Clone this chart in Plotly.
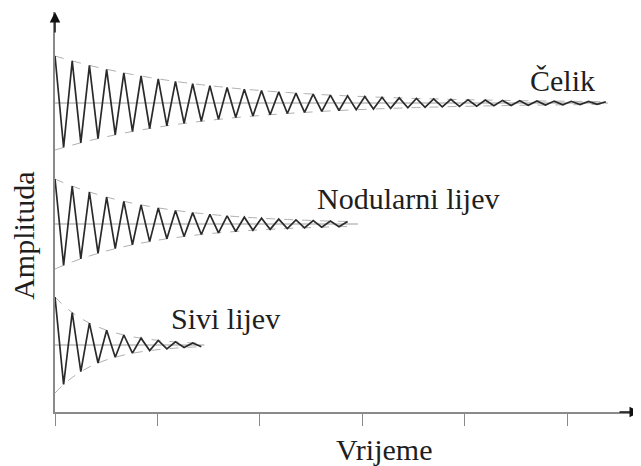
"""
Prigušene oscilacije - čelik, nodularni lijev, sivi lijev
"""
import plotly.graph_objects as go

# vrijeme: pola perioda titraja (jedinica = razmak između oznaka na osi)
pola_perioda = 0.084

# amplitude uzastopnih vrhova (očitano sa slike)
celik_amp = [47, 44.5, 42.1, 39.8, 37.6, 35.6, 33.7, 31.9, 30.1, 28.5,
             27.0, 25.5, 24.1, 22.8, 21.6, 20.4, 19.3, 18.3, 17.3, 16.4,
             15.5, 14.6, 13.8, 13.1, 12.4, 11.7, 11.1, 10.5, 9.9, 9.4,
             8.9, 8.4, 7.9, 7.5, 7.1, 6.7, 6.4, 6.0, 5.7, 5.4,
             5.1, 4.8, 4.5, 4.3, 4.1, 3.9, 3.6, 3.4, 3.3, 3.1,
             2.9, 2.8, 2.6, 2.5, 2.3, 2.2, 2.1, 2.0, 1.9, 1.8,
             1.7, 1.6, 1.5, 1.4, 1.3]
nodularni_amp = [45, 41.3, 37.9, 34.8, 32.0, 29.4, 26.9, 24.7, 22.7, 20.8,
                 19.1, 17.6, 16.1, 14.8, 13.6, 12.5, 11.4, 10.5, 9.6, 8.8,
                 8.1, 7.5, 6.8, 6.3, 5.8, 5.3, 4.9, 4.5, 4.1, 3.8,
                 3.5, 3.2, 2.9, 2.7, 2.5]
sivi_amp = [48, 39.5, 32.5, 26.7, 21.9, 18.0, 14.8, 12.2, 10.0, 8.2,
            6.8, 5.6, 4.6, 3.8, 3.1, 2.5, 2.1, 1.7]

# srednje vrijednosti (razina) svakog signala
razine = [309, 188, 67]
nazivi = ["Čelik", "Nodularni lijev", "Sivi lijev"]
amplitude = [celik_amp, nodularni_amp, sivi_amp]
produzenje = [0.02, 0.10, 0.03]  # srednja linija malo dulja od signala

FONT = "Liberation Serif, serif"

fig = go.Figure()

for amp, razina, produz in zip(amplitude, razine, produzenje):
    t = [i * pola_perioda for i in range(len(amp))]
    gore = [razina + a for a in amp]
    dolje = [razina - a for a in amp]
    zig = [razina + (a if i % 2 == 0 else -a) for i, a in enumerate(amp)]

    # srednja linija
    fig.add_trace(go.Scatter(
        x=[0, t[-1] + produz], y=[razina, razina], mode='lines',
        line=dict(color='#9a9a9a', width=1), hoverinfo='skip'
    ))
    # ovojnice
    for env in (gore, dolje):
        fig.add_trace(go.Scatter(
            x=t, y=env, mode='lines',
            line=dict(color='#b0b0b0', width=1, dash='dash', shape='spline'),
            hoverinfo='skip'
        ))
    # titraji
    fig.add_trace(go.Scatter(
        x=t, y=zig, mode='lines',
        line=dict(color='#2a2a2a', width=1.7)
    ))

# oznake krivulja
oznake_x = [4.95, 3.45, 1.66]
oznake_y = [332, 214, 94]
for tekst, xx, yy in zip(nazivi, oznake_x, oznake_y):
    fig.add_annotation(x=xx, y=yy, text=tekst, showarrow=False,
                       font=dict(family=FONT, size=30, color='#1e1e1e'))

# strelice na osima
fig.add_annotation(x=5.71, y=0, ax=-22, ay=0, text='', showarrow=True,
                   arrowhead=2, arrowsize=1.4, arrowwidth=1.5, arrowcolor='#111')
fig.add_annotation(x=0, y=400, ax=0, ay=22, text='', showarrow=True,
                   arrowhead=2, arrowsize=1.4, arrowwidth=1.5, arrowcolor='#111')

# nazivi osi
fig.add_annotation(x=0.564, y=-0.0925, xref='paper', yref='paper', text='Vrijeme',
                   xanchor='center', yanchor='middle', showarrow=False,
                   font=dict(family=FONT, size=30, color='#1e1e1e'))
fig.add_annotation(x=-0.055, y=0.44, xref='paper', yref='paper', text='Amplituda',
                   xanchor='center', yanchor='middle', textangle=-90, showarrow=False,
                   font=dict(family=FONT, size=30, color='#1e1e1e'))

# stranica ima 8 px ruba, pa je slika pomaknuta za toliko
fig.update_layout(
    width=633, height=458,
    margin=dict(l=47, r=1, t=4, b=54),
    plot_bgcolor='white', paper_bgcolor='white',
    showlegend=False,
    xaxis=dict(range=[0, 5.71], showline=True, linecolor='#8a8a8a', linewidth=1.5,
               ticks='outside', ticklen=12, tickcolor='#8a8a8a', tickwidth=1.2,
               tickvals=[0, 1, 2, 3, 4, 5], showticklabels=False,
               showgrid=False, zeroline=False),
    yaxis=dict(range=[0, 400], showline=True, linecolor='#8a8a8a', linewidth=1.5,
               showticklabels=False, ticks='', showgrid=False, zeroline=False),
)

fig.write_html("out.html")
